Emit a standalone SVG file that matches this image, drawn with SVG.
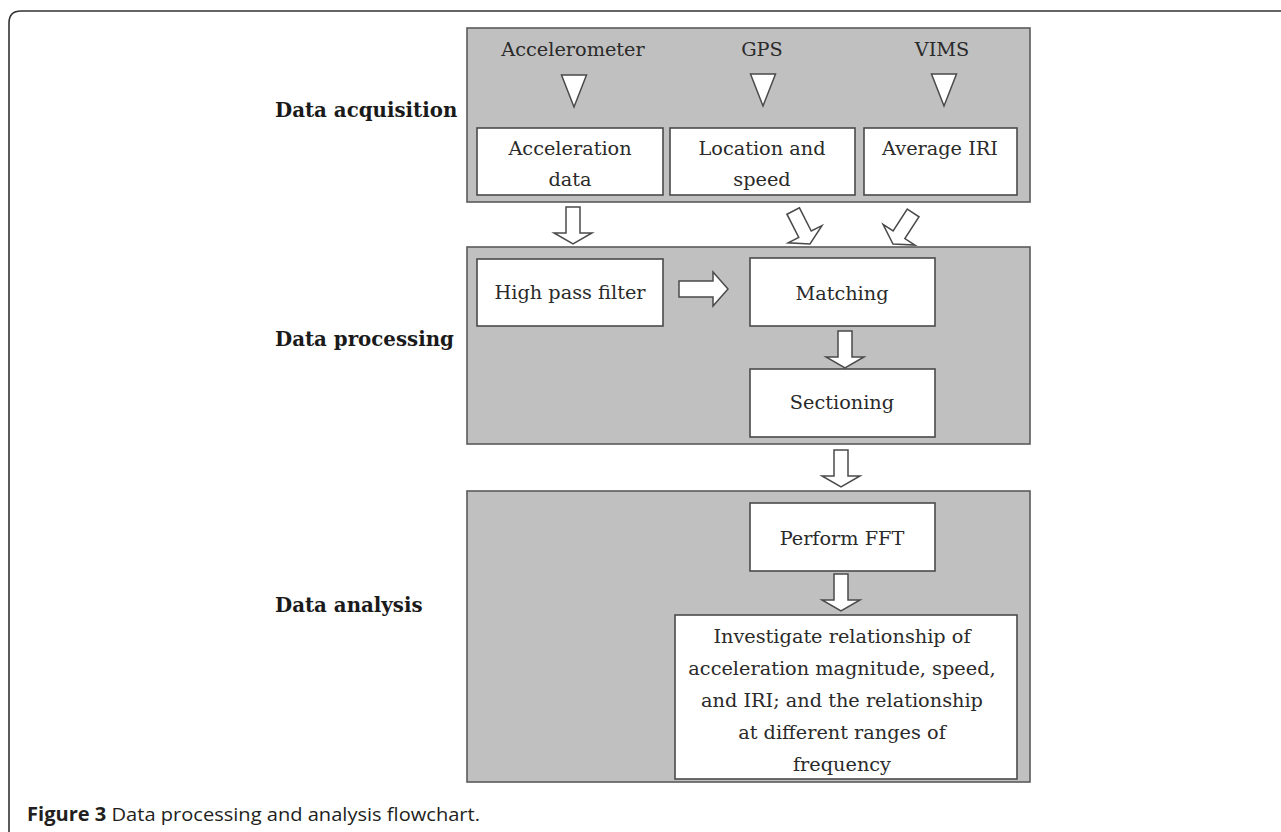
<svg xmlns="http://www.w3.org/2000/svg" width="1281" height="832" viewBox="0 0 1281 832">
<defs>
<style>
.panel{fill:#c0c0c0;stroke:#5a5a5a;stroke-width:1.6}
.box{fill:#fff;stroke:#4a4a4a;stroke-width:1.6}
.t{font-family:"DejaVu Serif","Liberation Serif",serif;font-size:19.3px;fill:#2a2a2a;text-anchor:middle}
.lab{font-family:"DejaVu Serif","Liberation Serif",serif;font-size:19.8px;font-weight:bold;fill:#1a1a1a}
.arr{fill:#fff;stroke:#4a4a4a;stroke-width:1.5;stroke-linejoin:miter}
.cap{font-family:"Open Sans","Noto Sans","Liberation Sans",sans-serif;font-size:19px;fill:#231f20}
</style>
<path id="dn" d="M -7 -37 H 7 V -11 H 19 L 0 0 L -19 -11 H -7 Z"/>
<path id="tri" d="M -12.5 0 H 12.5 L 0 32 Z"/>
</defs>
<rect width="1281" height="832" fill="#fff"/>
<path d="M 9 832 V 23 Q 9 11 21 11 H 1281" fill="none" stroke="#333" stroke-width="1.6"/>

<g id="labels">
<text class="lab" x="275" y="117">Data acquisition</text>
<text class="lab" x="275" y="346">Data processing</text>
<text class="lab" x="275" y="612">Data analysis</text>
</g>

<g id="panel-acquisition">
<rect class="panel" x="467" y="28" width="563" height="174"/>
<text class="t" x="573" y="56">Accelerometer</text>
<text class="t" x="762" y="56">GPS</text>
<text class="t" x="942" y="56">VIMS</text>
</g>
<g id="panel-processing"><rect class="panel" x="467" y="247" width="563" height="197"/></g>
<g id="panel-analysis"><rect class="panel" x="467" y="491" width="563" height="291"/></g>

<g id="node-acceleration">
<rect class="box" x="477" y="128" width="186" height="67"/>
<text class="t" x="570" y="155">Acceleration</text>
<text class="t" x="570" y="186">data</text>
</g>
<g id="node-location">
<rect class="box" x="670" y="128" width="185" height="67"/>
<text class="t" x="762" y="155">Location and</text>
<text class="t" x="762" y="186">speed</text>
</g>
<g id="node-iri">
<rect class="box" x="864" y="128" width="153" height="67"/>
<text class="t" x="940" y="155">Average IRI</text>
</g>
<g id="node-hpf">
<rect class="box" x="477" y="259" width="186" height="67"/>
<text class="t" x="570" y="299">High pass filter</text>
</g>
<g id="node-matching">
<rect class="box" x="750" y="258" width="185" height="68"/>
<text class="t" x="842" y="300">Matching</text>
</g>
<g id="node-sectioning">
<rect class="box" x="750" y="369" width="185" height="68"/>
<text class="t" x="842" y="409">Sectioning</text>
</g>
<g id="node-fft">
<rect class="box" x="750" y="503" width="185" height="68"/>
<text class="t" x="842" y="545">Perform FFT</text>
</g>
<g id="node-investigate">
<rect class="box" x="675" y="615" width="342" height="164"/>
<text class="t" x="842" y="643">Investigate relationship of</text>
<text class="t" x="842" y="675">acceleration magnitude, speed,</text>
<text class="t" x="842" y="707">and IRI; and the relationship</text>
<text class="t" x="842" y="739">at different ranges of</text>
<text class="t" x="842" y="771">frequency</text>
</g>

<g id="connectors">
<use href="#tri" class="arr" x="574" y="75"/>
<use href="#tri" class="arr" x="763" y="74"/>
<use href="#tri" class="arr" x="944" y="74"/>
<use href="#dn" class="arr" transform="translate(573,244)"/>
<use href="#dn" class="arr" transform="translate(810,244) rotate(-27)"/>
<use href="#dn" class="arr" transform="translate(893,244) rotate(33)"/>
<path class="arr" d="M 679 281 H 713 V 272 L 728 289 L 713 306 V 297 H 679 Z"/>
<use href="#dn" class="arr" transform="translate(845,368)"/>
<use href="#dn" class="arr" transform="translate(841,487)"/>
<use href="#dn" class="arr" transform="translate(841,611)"/>
</g>

<text class="cap" x="27" y="821" textLength="453" lengthAdjust="spacingAndGlyphs"><tspan font-weight="bold">Figure 3</tspan> Data processing and analysis flowchart.</text>
</svg>
